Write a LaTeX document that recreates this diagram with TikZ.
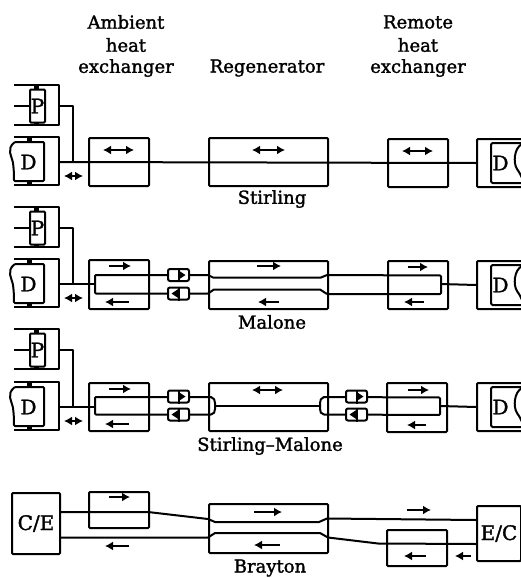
\documentclass[tikz,border=0pt]{standalone}
\usepackage{fontspec}
\setmainfont{DejaVu Serif}
\newfontface\lbl[FakeBold=1.6]{DejaVu Serif}
\usetikzlibrary{arrows.meta,calc}
\tikzset{
  ln/.style={line width=2pt,line join=round},
  bx/.style={draw,line width=2pt,rounded corners=1pt,inner sep=0pt,anchor=north west},
  lab/.style={font=\lbl\fontsize{18}{20}\selectfont,align=center,inner sep=0pt},
  big/.style={font=\lbl\fontsize{20}{22}\selectfont,align=center,inner sep=0pt},
  rar/.style={line width=2pt,-{Latex[length=8pt,width=9pt]}},
  dar/.style={line width=2pt,{Latex[length=8pt,width=9pt]}-{Latex[length=8pt,width=9pt]}},
}
\newcommand{\bxn}[5]{\node[bx,minimum width=#4pt,minimum height=#5pt] (#1) at (#2,#3) {};}
% left machines: #1 id, #2 y of P top, #3 y of D top
\newcommand{\leftpart}[3]{%
  \draw[ln] (14,#2) -- (59,#2) -- (59,#2+40) -- (14,#2+40);
  \node[bx,minimum width=15pt,minimum height=33pt] (P#1) at (29,#2+3.5) {};
  \node[big] (Pl#1) at (P#1.center) {P};
  \coordinate (Pr#1) at (14,#2+21);
  \draw[ln] (Pr#1) -- (P#1.west);
  \fill (34,#2) rectangle (39,#2+3.5);
  \fill (34,#2+36.5) rectangle (39,#2+40);
  \coordinate (Pe#1) at (59,#2+21);
  \coordinate (Jn#1) at (73,#3+25);
  \coordinate (De#1) at (59,#3+25);
  \draw[ln] (Pe#1) -| (Jn#1);
  \draw[ln] (14,#3) -- (59,#3) -- (59,#3+48) -- (14,#3+48);
  \draw[ln,rounded corners=1pt] (44,#3+5) -- (15,#3+5) .. controls (6,#3+12) and (12,#3+20) .. (13,#3+26) .. controls (14,#3+34) and (14,#3+38) .. (14,#3+44) -- (44,#3+44) -- cycle;
  \fill (27,#3) rectangle (32,#3+5);
  \fill (27,#3+44) rectangle (32,#3+48);
  \node[big] (Dl#1) at (28.5,#3+25) {D};
  \draw[dar] (64,#3+39) -- (83,#3+39);
}
\newcommand{\rightpart}[2]{%
  \node[bx,minimum width=60pt,minimum height=48pt] (C#1) at (476,#2) {};
  \begin{scope}
    \clip (470,#2-2) rectangle (521,#2+50);
    \draw[ln,rounded corners=1.5pt] (528,#2+5) -- (491,#2+5) -- (491,#2+45) -- (528,#2+45);
    \draw[ln] (522,#2+6) .. controls (514,#2+10) and (513,#2+25) .. (517,#2+31) .. controls (520,#2+35) and (521,#2+38) .. (522,#2+40);
  \end{scope}
  \node[big] (Dr#1) at (500.5,#2+25) {D};
}
\newcommand{\valve}[4]{%
  \node[draw,line width=2pt,rounded corners=2pt,fill=white,minimum width=21pt,minimum height=12pt,inner sep=0pt] (#1) at (#2,#3) {};
  \draw[line width=2pt] (#1.north) -- (#1.south);
  \fill (#2+#4*7,#3) -- (#2-#4*0.5,#3-5) -- (#2-#4*0.5,#3+5) -- cycle;
}
\begin{document}
\begin{tikzpicture}[x=1pt,y=-1pt]
\useasboundingbox (0,0) rectangle (521,578);
\node[lab] (h1a) at (126,22) {Ambient};
\node[lab] (h1b) at (126,45) {heat};
\node[lab] (h1c) at (126,68) {exchanger};
\node[lab] (h2) at (267,68) {Regenerator};
\node[lab] (h3a) at (418,22) {Remote};
\node[lab] (h3b) at (418,45) {heat};
\node[lab] (h3c) at (418,68) {exchanger};
\node[lab] (t1) at (272,199) {Stirling};
\node[lab] (t2) at (272,322) {Malone};
\node[lab] (t3) at (270,446) {Stirling–Malone};
\node[lab] (t4) at (270,568) {Brayton};

% --- Stirling
\leftpart{a}{85}{137}
\rightpart{a}{138}
\bxn{Aa}{88}{137}{60}{48}
\bxn{Ra}{208}{137}{119}{48}
\bxn{Ha}{387}{138}{60}{48}
\draw[ln] (Dea) -- (Ca.west);
\draw[dar] (103,150) -- (134,150);
\draw[dar] (252,150) -- (285,150);
\draw[dar] (402,151) -- (433,151);

% --- Malone
\leftpart{b}{207}{259}
\rightpart{b}{260}
\bxn{Ab}{88}{259}{60}{49}
\bxn{Rb}{208}{260}{119}{48}
\bxn{Hb}{387}{260}{60}{48}
\coordinate (Ub) at (95,284);
\draw[ln] (Deb) -- (Ub);
\draw[ln,rounded corners=1pt] (208,275) -- (95,275) -- (95,293.5) -- (208,293.5);
\draw[ln] (208,275) -- (213,277.5) -- (321,277.5) -- (327,275);
\draw[ln] (208,293.5) -- (214,289.5) -- (320,289.5) -- (327,294);
\draw[ln,rounded corners=1pt] (327,275) -- (441,275.5) -- (441,294) -- (327,294);
\coordinate (Tb) at (441,284);
\draw[ln] (Tb) -- (Cb.west);
\valve{V1b}{178.5}{275}{1}
\valve{V2b}{178.5}{293.5}{-1}
\draw[rar] (109,266) -- (131,266);
\draw[rar] (129,302) -- (105,302);
\draw[rar] (257,266) -- (281,266);
\draw[rar] (279,302) -- (258,302);
\draw[rar] (408,267) -- (428,267);
\draw[rar] (424,302) -- (404,302);

% --- Stirling-Malone
\leftpart{c}{329}{382}
\rightpart{c}{382}
\bxn{Ac}{88}{382}{60}{48}
\bxn{Rc}{208}{382}{119}{48}
\bxn{Hc}{386}{382}{60}{49}
\coordinate (Uc) at (95,407);
\draw[ln] (Dec) -- (Uc);
\draw[ln,rounded corners=1pt] (208,397) -- (95,397) -- (95,414.5) -- (208,414.5);
\draw[ln] (208,397) -- (211,397) .. controls (214,398) and (215,400) .. (215,403) -- (215,409) .. controls (215,412) and (214,414) .. (211,414.5) -- (208,414.5);
\draw[ln] (327,397) -- (324,397) .. controls (321,398) and (320,400) .. (320,403) -- (320,409) .. controls (320,412) and (321,414) .. (324,414.5) -- (327,414.5);
\draw[ln] (215,405.5) -- (320,405.5);
\draw[ln,rounded corners=1pt] (327,397) -- (440,397.5) -- (440,415) -- (327,414.5);
\coordinate (Tc) at (440,406);
\draw[ln] (Tc) -- (Cc.west);
\valve{V1c}{178.5}{396.5}{1}
\valve{V2c}{178.5}{414.5}{-1}
\valve{V3c}{356.5}{396.5}{1}
\valve{V4c}{356.5}{414.5}{-1}
\draw[rar] (109,389) -- (131,389);
\draw[rar] (129,424) -- (105,424);
\draw[dar] (252,390) -- (283,390);
\draw[rar] (408,390) -- (429,390);
\draw[rar] (426,425) -- (407,425);

% --- Brayton
\bxn{CE}{11}{492}{48}{61}
\node[big] (ceL) at (CE.center) {C/E};
\bxn{Ad}{88}{491}{60}{36}
\bxn{Rd}{208}{503}{119}{49}
\bxn{Hd}{386}{529}{60}{36}
\bxn{EC}{476}{505}{44}{55}
\node[big] (ecL) at (EC.center) {E/C};
\coordinate (u1) at (0,512); \coordinate (u2) at (0,520);
\coordinate (l1) at (0,537.5); \coordinate (l2) at (0,544);
\draw[ln] (CE.east|-u1) -- (148,512) -- (208,519) -- (215,522) -- (319,522) -- (327,518.5) -- (EC.west|-u2);
\draw[ln] (CE.east|-l1) -- (208,537.5) -- (215,533) -- (320,533) -- (328,537.5) -- (378,543.5) -- (EC.west|-l2);
\draw[rar] (109,497) -- (130,497);
\draw[rar] (129,546) -- (105,546);
\draw[rar] (254,512) -- (282,512);
\draw[rar] (280,545) -- (254,545);
\draw[rar] (407,510) -- (431,510);
\draw[rar] (426,556) -- (404,556);
\draw[rar] (471,556) -- (455,556);
\end{tikzpicture}
\end{document}
